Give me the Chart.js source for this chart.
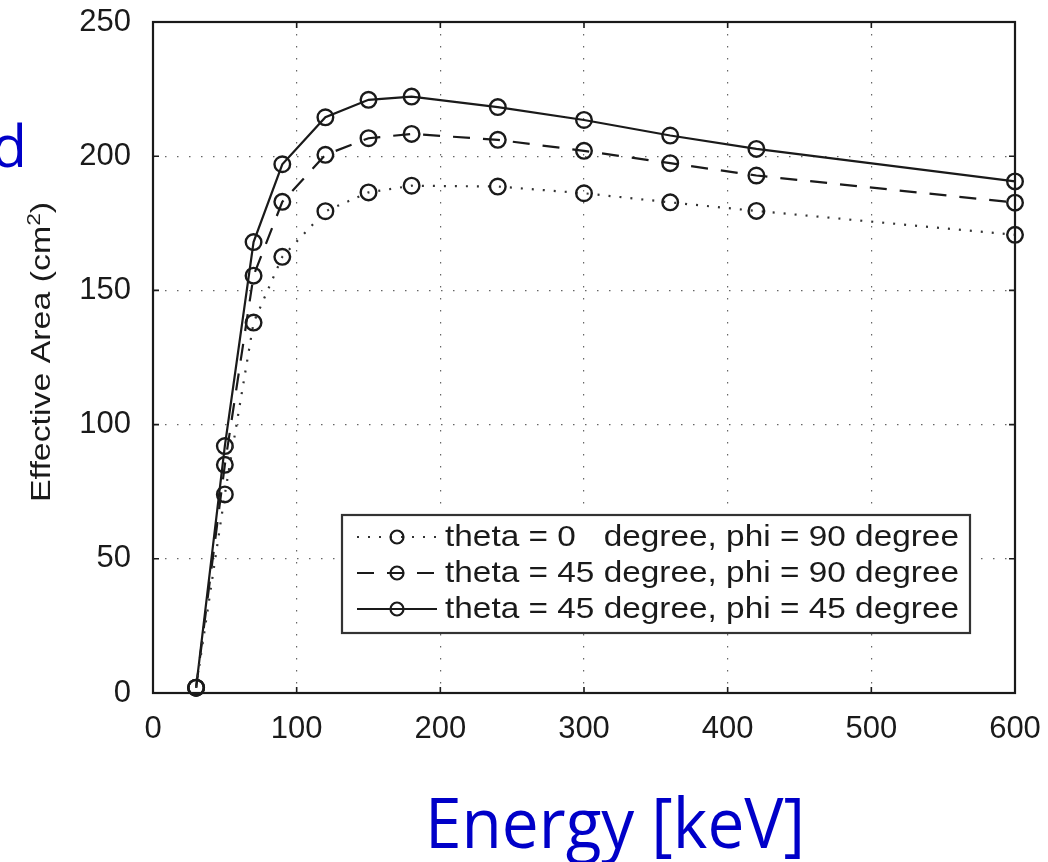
<!DOCTYPE html>
<html>
<head>
<meta charset="utf-8">
<script src="https://cdn.jsdelivr.net/npm/chart.js@4.4.1/dist/chart.umd.min.js"></script>
<style>
  html, body { margin: 0; padding: 0; background: #fff; }
  canvas { display: block; }
</style>
</head>
<body>
<canvas id="effArea" width="1048" height="862"></canvas>
<script>
// photon energy (keV) and effective area (cm^2) for three incidence angles
const energies = [30, 50, 70, 90, 120, 150, 180, 240, 300, 360, 420, 600];
const areaTheta0Phi90 = [2, 74, 138, 162.5, 179.5, 186.5, 189, 188.7, 186.2, 182.8, 179.6, 170.7];
const areaTheta45Phi90 = [2, 85, 155.5, 183, 200.5, 206.7, 208.3, 206.1, 202, 197.4, 192.8, 182.7];
const areaTheta45Phi45 = [2, 92, 168, 197, 214.5, 221, 222.2, 218.3, 213.5, 207.7, 202.7, 190.6];
const seriesLabels = [
  'theta = 0   degree, phi = 90 degree',
  'theta = 45 degree, phi = 90 degree',
  'theta = 45 degree, phi = 45 degree'
];
const xTicks = [0, 100, 200, 300, 400, 500, 600];
const yTicks = [0, 50, 100, 150, 200, 250];
const xTitle = 'Energy [keV]';
const yTitle = ['Effective Area (cm', '2', ')'];

const ink = '#1a1a1a';
const blue = '#0000c8';
const sans = '"Liberation Sans", Arial, Helvetica, sans-serif';

const series = (label, ys, dash, color) => ({
  label,
  data: energies.map((e, i) => ({ x: e, y: ys[i] })),
  showLine: true,
  borderColor: color,
  borderWidth: 2.2,
  borderDash: dash,
  pointRadius: 7.8,
  pointHoverRadius: 7.8,
  pointBorderWidth: 2.4,
  pointBorderColor: ink,
  pointBackgroundColor: 'rgba(0,0,0,0)',
  tension: 0,
  clip: false
});

// keep the plot box where the layout puts it, labels may overhang
const noOverhang = s => {
  s.paddingTop = s.paddingBottom = s.paddingLeft = s.paddingRight = 0;
};

// draw text squeezed/stretched to a given width
function fitText(ctx, text, x, y, width, font, color) {
  ctx.save();
  ctx.font = font;
  ctx.fillStyle = color;
  ctx.textBaseline = 'alphabetic';
  ctx.textAlign = 'center';
  const w = ctx.measureText(text).width;
  ctx.translate(x, y);
  ctx.scale(width / w, 1);
  ctx.fillText(text, 0, 0);
  ctx.restore();
}

// rotated y title with a raised exponent
function drawYTitle(ctx, x, y, length) {
  const [head, sup, tail] = yTitle;
  const big = '27px ' + sans, small = '18px ' + sans;
  ctx.save();
  ctx.fillStyle = ink;
  ctx.textBaseline = 'alphabetic';
  ctx.textAlign = 'left';
  ctx.font = big;
  const wHead = ctx.measureText(head).width;
  const wTail = ctx.measureText(tail).width;
  ctx.font = small;
  const wSup = ctx.measureText(sup).width;
  const total = wHead + wSup + wTail;
  ctx.translate(x, y);
  ctx.rotate(-Math.PI / 2);
  ctx.scale(length / total, 1);
  ctx.translate(-total / 2, 0);
  ctx.font = big;
  ctx.fillText(head, 0, 0);
  ctx.font = small;
  ctx.fillText(sup, wHead, -10);
  ctx.font = big;
  ctx.fillText(tail, wHead + wSup, 0);
  ctx.restore();
}

const framePlugin = {
  id: 'frame',
  afterDraw(chart) {
    const { ctx, chartArea: a, scales: { x, y } } = chart;
    ctx.save();

    // box and inward ticks
    ctx.strokeStyle = ink;
    ctx.lineWidth = 2.2;
    ctx.strokeRect(a.left, a.top, a.right - a.left, a.bottom - a.top);
    ctx.lineWidth = 1.6;
    ctx.beginPath();
    xTicks.forEach(v => {
      const px = x.getPixelForValue(v);
      ctx.moveTo(px, a.bottom); ctx.lineTo(px, a.bottom - 6);
      ctx.moveTo(px, a.top); ctx.lineTo(px, a.top + 6);
    });
    yTicks.forEach(v => {
      const py = y.getPixelForValue(v);
      ctx.moveTo(a.left, py); ctx.lineTo(a.left + 6, py);
      ctx.moveTo(a.right, py); ctx.lineTo(a.right - 6, py);
    });
    ctx.stroke();

    // legend
    const lx = 342, ly = 515, lw = 628, lh = 118;
    ctx.fillStyle = '#fff';
    ctx.fillRect(lx, ly, lw, lh);
    ctx.lineWidth = 2.2;
    ctx.strokeStyle = '#333';
    ctx.strokeRect(lx, ly, lw, lh);

    ctx.font = '29px ' + sans;
    const textScale = 514 / ctx.measureText(seriesLabels[1]).width;
    chart.data.datasets.forEach((ds, i) => {
      const base = 546 + 36 * i;
      const my = base - 9;
      ctx.save();
      ctx.strokeStyle = ds.borderColor;
      ctx.lineWidth = ds.borderWidth;
      ctx.setLineDash(ds.borderDash || []);
      ctx.beginPath();
      ctx.moveTo(357, my);
      ctx.lineTo(437, my);
      ctx.stroke();
      ctx.setLineDash([]);
      ctx.strokeStyle = ink;
      ctx.lineWidth = 2.2;
      ctx.beginPath();
      ctx.arc(397, my, 6.5, 0, Math.PI * 2);
      ctx.stroke();
      ctx.restore();

      ctx.save();
      ctx.fillStyle = ink;
      ctx.textBaseline = 'alphabetic';
      ctx.textAlign = 'left';
      ctx.translate(445, base);
      ctx.scale(textScale, 1);
      ctx.fillText(ds.label, 0, 0);
      ctx.restore();
    });

    // axis titles
    drawYTitle(ctx, 50, 352, 300);
    fitText(ctx, xTitle, 615, 848, 380, '70px "Open Sans", "Noto Sans", sans-serif', blue);

    // fragment of a word at the left margin
    ctx.font = '58px "Open Sans", "Noto Sans", sans-serif';
    ctx.fillStyle = blue;
    ctx.textAlign = 'right';
    ctx.textBaseline = 'alphabetic';
    ctx.fillText('d', 27, 167);

    ctx.restore();
  }
};

new Chart(document.getElementById('effArea'), {
  type: 'scatter',
  data: {
    datasets: [
      series(seriesLabels[0], areaTheta0Phi90, [2, 9], '#333'),
      series(seriesLabels[1], areaTheta45Phi90, [17, 13], ink),
      series(seriesLabels[2], areaTheta45Phi45, [], ink)
    ]
  },
  options: {
    responsive: false,
    animation: false,
    devicePixelRatio: 1,
    layout: { padding: { left: 0, right: 33, top: 22, bottom: 0 } },
    plugins: {
      legend: { display: false },
      tooltip: { enabled: false }
    },
    scales: {
      x: {
        type: 'linear',
        min: 0,
        max: 600,
        afterFit: s => { s.height = 169; noOverhang(s); },
        afterBuildTicks: s => { s.ticks = xTicks.map(v => ({ value: v })); },
        ticks: { padding: 18, color: ink, font: { family: sans, size: 31 } },
        grid: { color: '#666', lineWidth: 1.2, drawTicks: false },
        border: { display: false, dash: [1.5, 10.5] }
      },
      y: {
        min: 0,
        max: 250,
        afterFit: s => { s.width = 153; noOverhang(s); },
        afterBuildTicks: s => { s.ticks = yTicks.map(v => ({ value: v })); },
        ticks: { padding: 22, color: ink, font: { family: sans, size: 31 } },
        grid: { color: '#666', lineWidth: 1.2, drawTicks: false },
        border: { display: false, dash: [1.5, 10.5] }
      }
    }
  },
  plugins: [framePlugin]
});
</script>
</body>
</html>
